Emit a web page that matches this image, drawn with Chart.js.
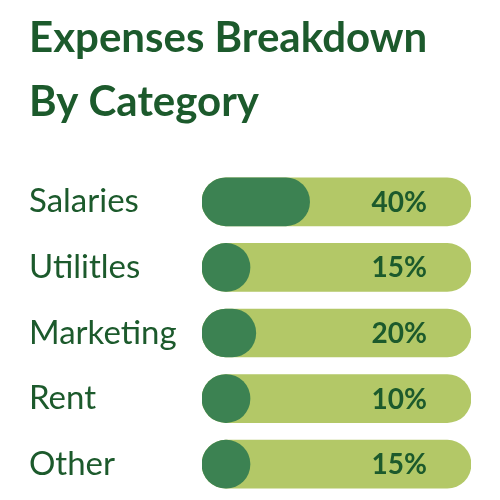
<!DOCTYPE html>
<html>
<head>
<meta charset="utf-8">
<script src="https://cdn.jsdelivr.net/npm/chart.js@4.4.0/dist/chart.umd.min.js"></script>
<style>
  html, body { margin: 0; padding: 0; background: #fff; }
  #wrap { width: 500px; height: 500px; }
</style>
</head>
<body>
<div id="wrap"><canvas id="expenseChart" width="500" height="500"></canvas></div>
<script>
const categories = ['Salaries', 'Utilitles', 'Marketing', 'Rent', 'Other'];
const shares = [40, 15, 20, 10, 15];
const trackValues = [100, 100, 100, 100, 100];
const titleLines = ['Expenses Breakdown', 'By Category'];

const darkText = '#1c5a2c';
const fillColor = '#3c8252';
const trackColor = '#b3c867';

// percent labels sit inside the track, left aligned
const percentLabels = {
  id: 'percentLabels',
  afterDatasetsDraw(chart) {
    const ctx = chart.ctx;
    const xScale = chart.scales.x;
    const meta = chart.getDatasetMeta(1);
    ctx.save();
    ctx.font = 'bold 28px Lato';
    ctx.fillStyle = darkText;
    ctx.textAlign = 'left';
    ctx.textBaseline = 'middle';
    meta.data.forEach((bar, i) => {
      ctx.fillText(shares[i] + '%', xScale.getPixelForValue(63), bar.y + 1);
    });
    ctx.restore();
  }
};

const ctx = document.getElementById('expenseChart').getContext('2d');
new Chart(ctx, {
  type: 'bar',
  data: {
    labels: categories,
    datasets: [
      {
        label: 'Track',
        data: trackValues,
        backgroundColor: trackColor,
        borderRadius: 30,
        borderSkipped: false,
        barThickness: 48,
        grouped: false,
        order: 2
      },
      {
        label: 'Share',
        data: shares,
        backgroundColor: fillColor,
        borderRadius: 30,
        borderSkipped: false,
        barThickness: 48,
        minBarLength: 48,
        grouped: false,
        order: 1
      }
    ]
  },
  plugins: [percentLabels],
  options: {
    indexAxis: 'y',
    responsive: false,
    animation: false,
    layout: {
      padding: { left: 29, right: 29, top: 6, bottom: 3 }
    },
    plugins: {
      legend: { display: false },
      tooltip: { enabled: false },
      title: {
        display: true,
        text: titleLines,
        align: 'start',
        color: darkText,
        font: { family: 'Lato', size: 42, weight: 'bold', lineHeight: 1.524 },
        padding: { top: 0, bottom: 35 }
      }
    },
    scales: {
      x: {
        display: false,
        min: 0,
        max: 100
      },
      y: {
        grid: { display: false },
        border: { display: false },
        ticks: {
          color: darkText,
          font: { family: 'Lato', size: 33 },
          crossAlign: 'far',
          padding: 10
        },
        afterFit(scale) {
          scale.width = 173;
          scale.paddingTop = 0;
          scale.paddingBottom = 0;
        }
      }
    }
  }
});
</script>
</body>
</html>
